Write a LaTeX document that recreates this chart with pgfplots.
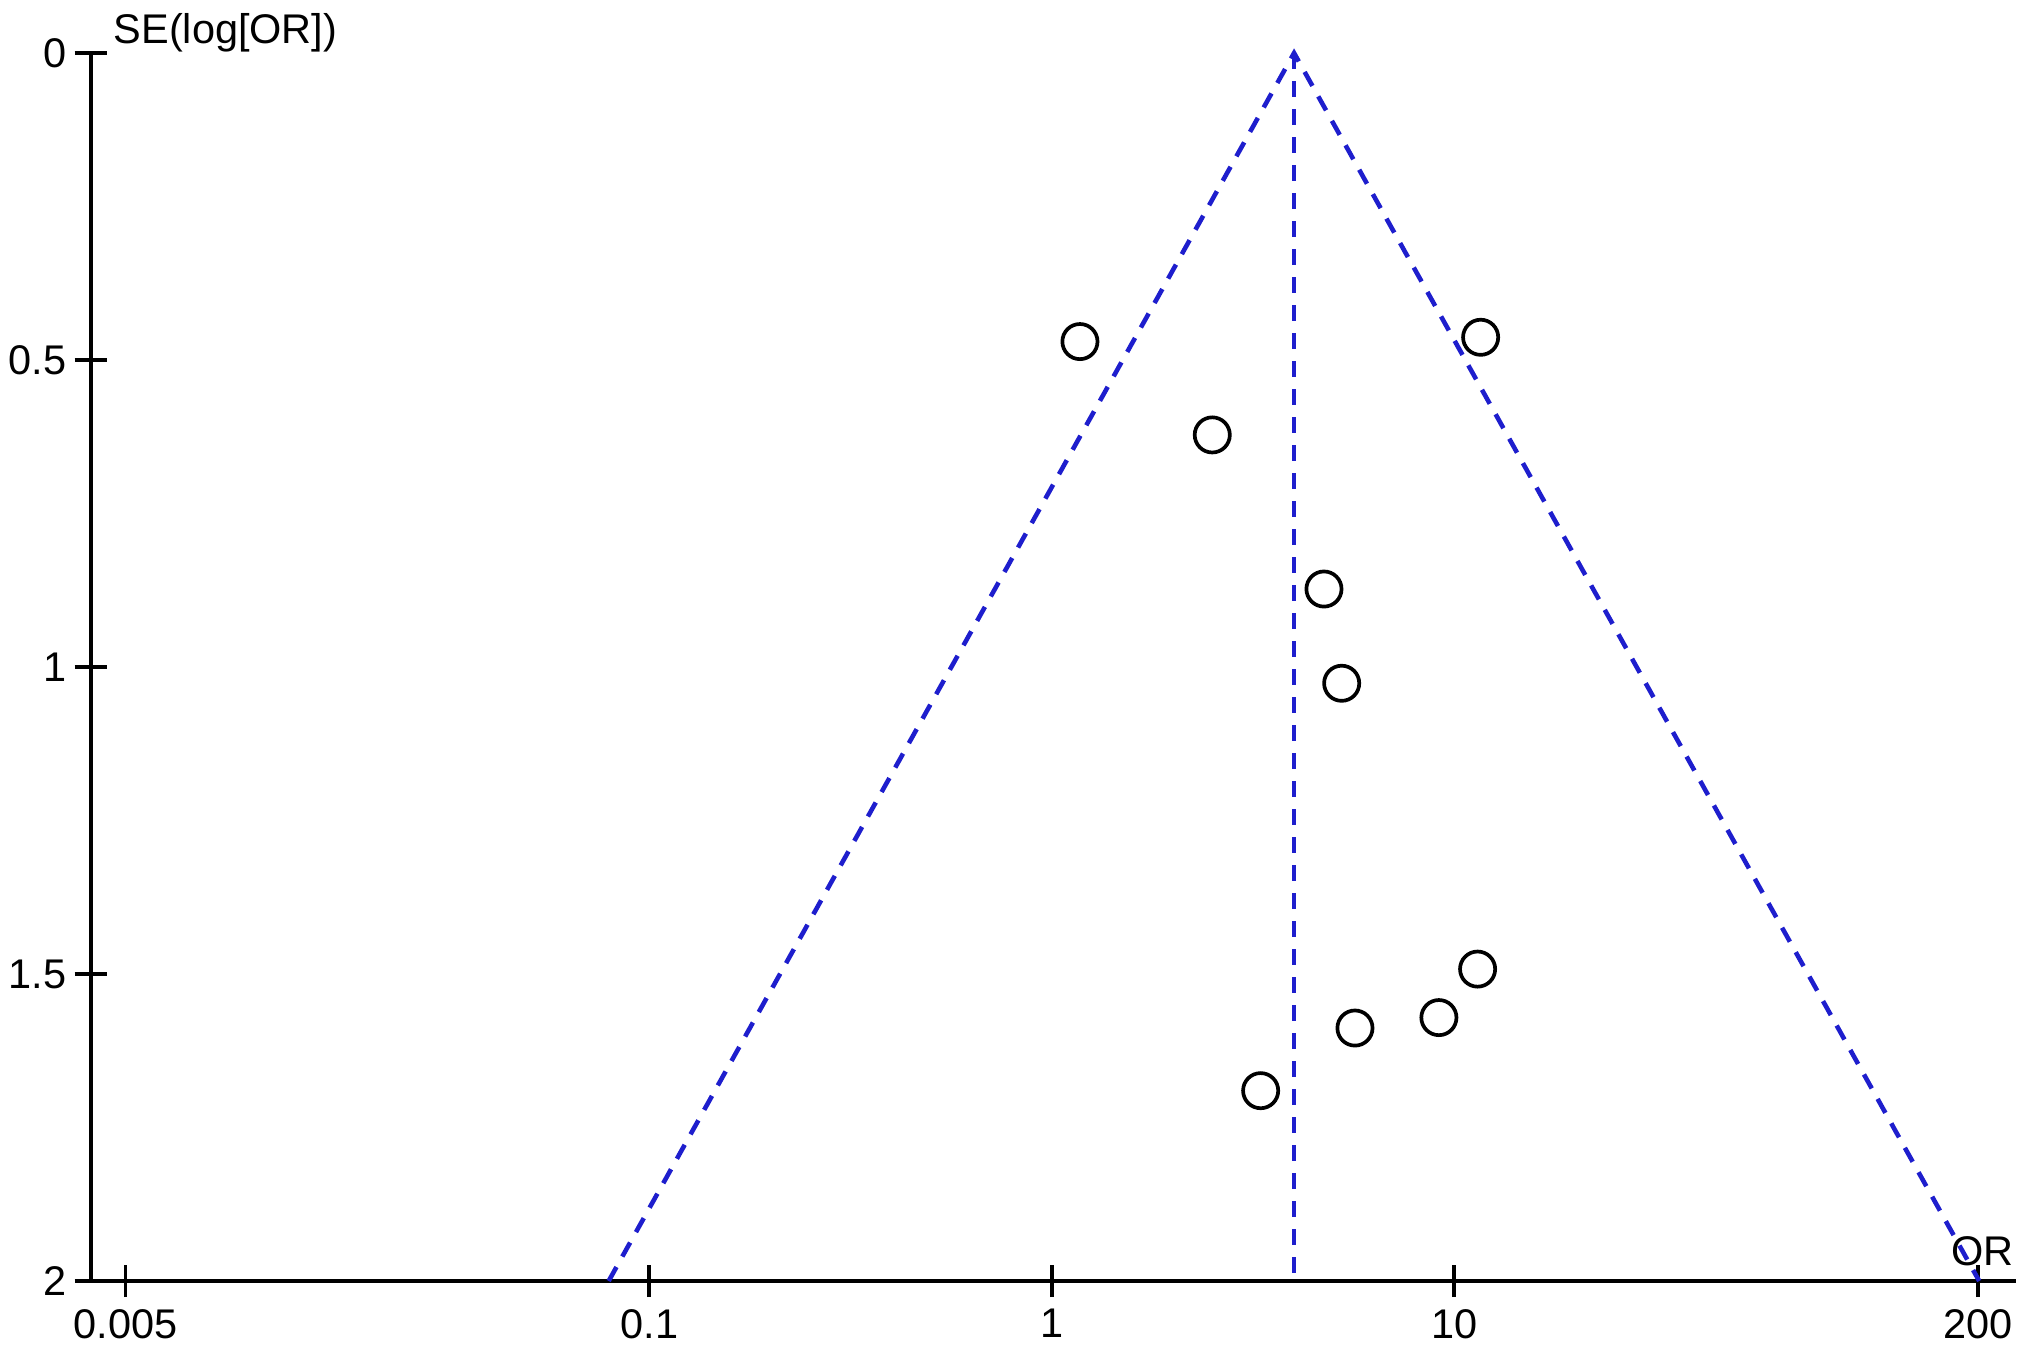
\documentclass[border=0pt]{standalone}
\usepackage{fontspec}
\setmainfont{Liberation Sans}
\usepackage{pgfplots}
\pgfplotsset{compat=1.18}
\definecolor{funnelblue}{RGB}{30,30,205}
\begin{document}
\begin{tikzpicture}
\useasboundingbox (0,0) rectangle (20.31,13.48);
\begin{axis}[
  at={(0.907cm,0.67cm)}, anchor=south west,
  scale only axis, width=19.253cm, height=12.28cm,
  xmode=log, xmin=0.004095, xmax=248.7,
  ymin=0, ymax=2, y dir=reverse,
  axis x line*=bottom, axis y line*=left,
  axis line style={line width=1.05pt, black},
  xtick={0.005,0.1,1,10,200}, xticklabels={0.005,0.1,1,10,200},
  minor xtick={},
  ytick={0,0.5,1,1.5,2}, yticklabels={0,0.5,1,1.5,2},
  tick align=center, major tick length=0.32cm,
  tick style={line width=1.05pt, black},
  tick label style={font=\fontsize{11.8}{14}\selectfont},
  yticklabel style={xshift=0.04cm},
  /pgf/number format/assume math mode=true,
  clip=false,
]
\addplot[funnelblue, line width=1.3pt, dash pattern=on 0.16cm off 0.12cm] coordinates {(0.0793,2) (4.0,0) (201.5,2)};
\addplot[funnelblue, line width=1.3pt, dash pattern=on 0.16cm off 0.12cm] coordinates {(4.0,0) (4.0,2)};
\addplot[only marks, mark=o, mark size=5pt, mark options={line width=1.05pt, black}] coordinates {
(1.175,0.470)
(11.63,0.463)
(2.505,0.622)
(4.746,0.873)
(5.252,1.0265)
(11.43,1.492)
(9.16,1.571)
(5.667,1.588)
(3.304,1.690)
};
\node[anchor=base west, font=\fontsize{11.8}{14}\selectfont, inner sep=0pt, xshift=0.223cm, yshift=0.10cm] at (axis description cs:0,1) {SE(log[OR])};
\node[anchor=base east, font=\fontsize{11.8}{14}\selectfont, inner sep=0pt, xshift=-0.02cm, yshift=0.16cm] at (axis description cs:1,0) {OR};
\end{axis}
\end{tikzpicture}
\end{document}
